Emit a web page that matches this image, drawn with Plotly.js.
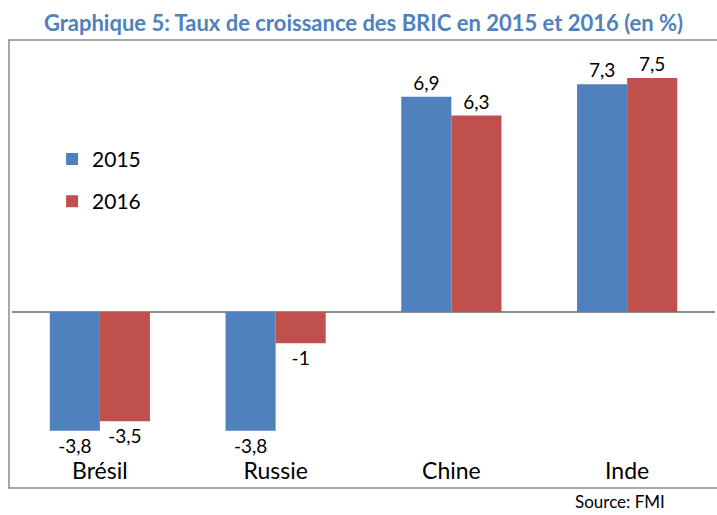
<!DOCTYPE html>
<html>
<head>
<meta charset="utf-8">
<script src="https://cdn.plot.ly/plotly-3.0.1.min.js"></script>
<style>html,body{margin:0;padding:0;background:#fff;}#chart{width:717px;height:515px;}</style>
</head>
<body>
<div id="chart"></div>
<script>
const categories = ["Brésil", "Russie", "Chine", "Inde"];
const values2015 = [-3.8, -3.8, 6.9, 7.3];
const values2016 = [-3.5, -1, 6.3, 7.5];
const seriesNames = ["2015", "2016"];
const titleText = "Graphique 5: Taux de croissance des BRIC en 2015 et 2016 (en %)";
const sourceText = "Source: FMI";

const FONT = "Lato, 'Open Sans', sans-serif";
const fmt = v => String(v).replace('.', ',');

const traces = [
  {
    type: 'bar', name: seriesNames[0], x: categories, y: values2015,
    marker: {color: '#4F81BD'},
    text: values2015.map(fmt), textposition: 'outside', cliponaxis: false,
    textfont: {family: FONT, size: 19, color: '#000'},
    legendgroup: 'a'
  },
  {
    type: 'bar', name: seriesNames[1], x: categories, y: values2016,
    marker: {color: '#C0504D'},
    text: values2016.map(fmt), textposition: 'outside', cliponaxis: false,
    textfont: {family: FONT, size: 19, color: '#000'},
    legendgroup: 'b'
  }
];

const layout = {
  width: 717, height: 515,
  margin: {l: 12, r: 2, t: 40, b: 60},
  paper_bgcolor: '#fff', plot_bgcolor: '#fff',
  font: {family: FONT, color: '#000'},
  title: {
    text: '<b>' + titleText + '</b>',
    font: {family: FONT, size: 22, color: '#4F81BD'},
    x: 0.5, xanchor: 'center', y: 0.955, yanchor: 'middle', xref: 'paper'
  },
  barmode: 'group', bargap: 0.43, bargroupgap: 0,
  xaxis: {
    showline: false, showgrid: false, ticks: '',
    tickfont: {family: FONT, size: 23, color: '#000'},
    fixedrange: true
  },
  yaxis: {
    range: [-4.58, 8.72], showgrid: false, showticklabels: false, ticks: '',
    zeroline: true, zerolinecolor: '#8c8c8c', zerolinewidth: 1.5,
    showline: false, fixedrange: true
  },
  showlegend: true,
  legend: {
    x: 0.057, y: 0.762, xanchor: 'left', yanchor: 'top',
    font: {family: FONT, size: 21, color: '#000'},
    bgcolor: 'rgba(0,0,0,0)', tracegroupgap: 12, itemwidth: 30
  },
  shapes: [{
    type: 'rect', xref: 'paper', yref: 'paper',
    x0: -0.0043, x1: 1.06, y0: -0.0795, y1: 1.0,
    line: {color: '#8c8c8c', width: 1.5}, fillcolor: 'rgba(0,0,0,0)'
  }],
  annotations: [{
    text: sourceText, xref: 'paper', yref: 'paper',
    x: 0.932, y: -0.112, xanchor: 'right', yanchor: 'middle', showarrow: false,
    font: {family: FONT, size: 17, color: '#000'}
  }]
};

Plotly.newPlot('chart', traces, layout, {displayModeBar: false, staticPlot: true});
</script>
</body>
</html>
